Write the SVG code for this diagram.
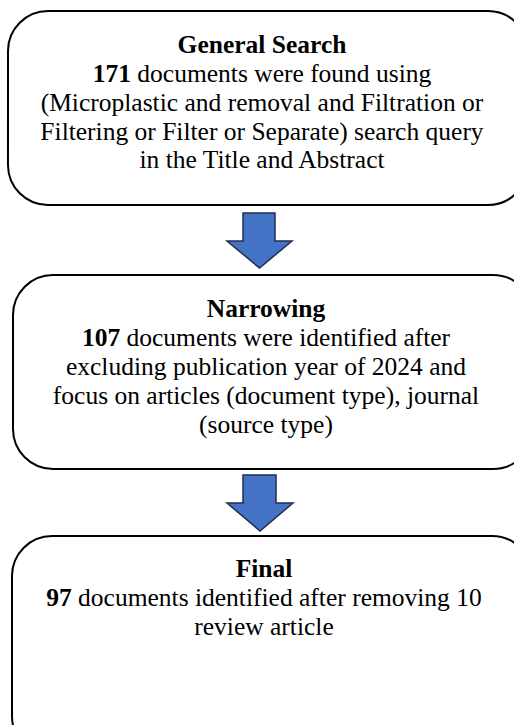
<svg xmlns="http://www.w3.org/2000/svg" width="514" height="725" viewBox="0 0 514 725">
<style>
.box{fill:#fff;stroke:#000;stroke-width:2}
.arr{fill:#4472C4;stroke:#1F2F50;stroke-width:1.5}
.t{font-family:'Liberation Serif','Times New Roman',Times,serif;font-size:25.5px;fill:#000;text-anchor:middle}
.b{font-weight:bold}
</style>
<rect width="514" height="725" fill="#fff"/>
<g id="connectors">
<path class="arr" d="M243,213 H275 V241 H292 L259.5,268 L227,241 H243 Z"/>
<path class="arr" d="M243,475 H276 V503 H293 L260,531 L227,503 H243 Z"/>
</g>
<g id="general-search">
<rect class="box" x="8" y="11" width="520" height="194" rx="40"/>
<text class="t b" x="262" y="53">General Search</text>
<text class="t" x="262" y="82"><tspan class="b">171</tspan> documents were found using</text>
<text class="t" x="262" y="111">(Microplastic and removal and Filtration or</text>
<text class="t" x="262" y="140">Filtering or Filter or Separate) search query</text>
<text class="t" x="262" y="168">in the Title and Abstract</text>
</g>
<g id="narrowing">
<rect class="box" x="13" y="275" width="520" height="194" rx="40"/>
<text class="t b" x="266" y="317">Narrowing</text>
<text class="t" x="266" y="346"><tspan class="b">107</tspan> documents were identified after</text>
<text class="t" x="266" y="375">excluding publication year of 2024 and</text>
<text class="t" x="266" y="404">focus on articles (document type), journal</text>
<text class="t" x="266" y="433">(source type)</text>
</g>
<g id="final">
<rect class="box" x="12" y="536" width="520" height="220" rx="40"/>
<text class="t b" x="264" y="577">Final</text>
<text class="t" x="264" y="606"><tspan class="b">97</tspan> documents identified after removing 10</text>
<text class="t" x="264" y="635">review article</text>
</g>
</svg>
